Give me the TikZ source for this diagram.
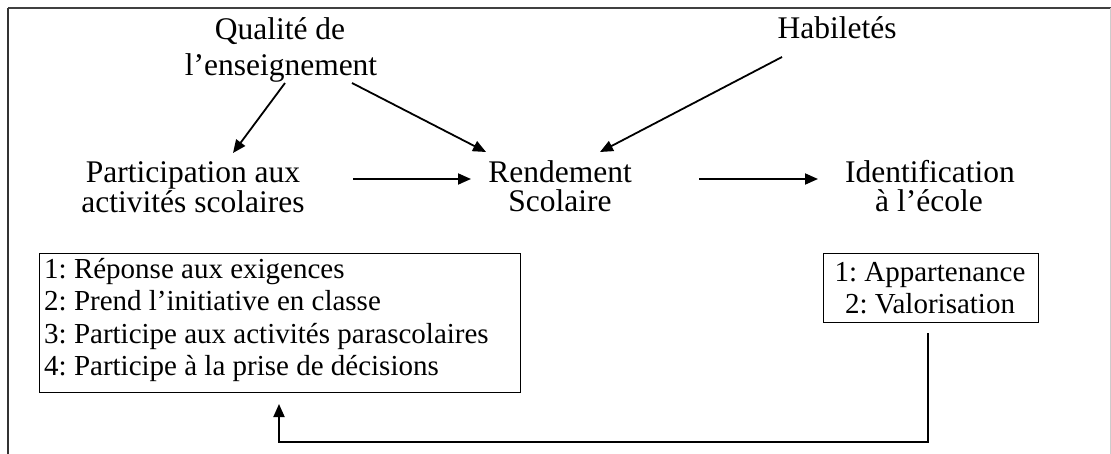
\documentclass[tikz,border=0pt]{standalone}
\usepackage{fontspec}
\setmainfont{Liberation Serif}
\usetikzlibrary{arrows.meta}
\frenchspacing
\tikzset{
  lbl/.style={inner sep=0pt, anchor=base, font=\fontsize{31.5}{36}\selectfont},
  itm/.style={inner sep=0pt, anchor=base west, font=\fontsize{29}{32}\selectfont},
  itmc/.style={inner sep=0pt, anchor=base, font=\fontsize{29}{32}\selectfont},
  arr/.style={line width=1.8pt, -{Triangle[length=13pt,width=11pt]}},
  boxst/.style={draw, line width=1.2pt, inner sep=0pt, anchor=north west},
}
\begin{document}
\begin{tikzpicture}[x=1pt,y=-1pt]
\useasboundingbox (0,0) rectangle (1111,454);
% frame
\draw[line width=1.8pt, black!75] (8,8) -- (1111,8);
\draw[line width=1.3pt, black!80] (8,8) -- (8,454);
\draw[line width=0.6pt, black!20] (1110,8) -- (1110,454);

% labels
\node[lbl] (q1) at (280,40) {Qualité de};
\node[lbl] (q2) at (281,76) {l’enseignement};
\node[lbl] (hab) at (837,39) {Habiletés};
\node[lbl] (p1) at (193,183) {Participation aux};
\node[lbl] (p2) at (193,213) {activités scolaires};
\node[lbl] (r1) at (560,183) {Rendement};
\node[lbl] (r2) at (560,212) {Scolaire};
\node[lbl] (i1) at (930,183) {Identification};
\node[lbl] (i2) at (929,212) {à l’école};

% boxes
\node[boxst, minimum width=481pt, minimum height=139pt] (lbox) at (39,253) {};
\node[boxst, minimum width=215pt, minimum height=69pt] (rbox) at (823,253) {};

\node[itm] (l1) at (44,279) {1: Réponse aux exigences};
\node[itm] (l2) at (44,311) {2: Prend l’initiative en classe};
\node[itm] (l3) at (44,343) {3: Participe aux activités parascolaires};
\node[itm] (l4) at (44,375) {4: Participe à la prise de décisions};

\node[itmc] (a1) at (930,282) {1: Appartenance};
\node[itmc] (a2) at (930,313) {2: Valorisation};

% connector end points
\coordinate (qa) at (285,83);
\coordinate (pt) at (233,153);
\coordinate (qb) at (352,83);
\coordinate (rt1) at (486,152);
\coordinate (hs) at (782,57);
\coordinate (rt2) at (600,152);
\coordinate (pe) at (353,179);
\coordinate (rw) at (471,179);
\coordinate (re) at (699,179);
\coordinate (iw) at (818,179);
\coordinate (fb0) at (928,333);
\coordinate (fb1) at (928,442);
\coordinate (fb2) at (279,442);
\coordinate (fbt) at (279,404);

% connectors
\draw[arr] (qa) -- (pt);
\draw[arr] (qb) -- (rt1);
\draw[arr] (hs) -- (rt2);
\draw[arr] (pe) -- (rw);
\draw[arr] (re) -- (iw);
\draw[arr, line join=miter] (fb0) -- (fb1) -- (fb2) -- (fbt);
\end{tikzpicture}
\end{document}
